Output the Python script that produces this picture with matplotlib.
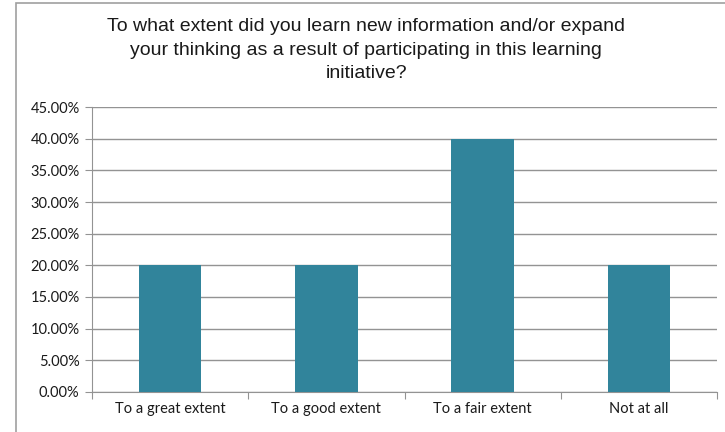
import matplotlib.pyplot as plt
from matplotlib.patches import Rectangle
from matplotlib.ticker import PercentFormatter, MultipleLocator

categories = ["To a great extent", "To a good extent", "To a fair extent", "Not at all"]
shares = [20.0, 20.0, 40.0, 20.0]
title = ("To what extent did you learn new information and/or expand\n"
         "your thinking as a result of participating in this learning\n"
         "initiative?")

fig = plt.figure(figsize=(7.25, 4.32), dpi=100)
ax = fig.add_axes([0.127, 0.093, 0.862, 0.659])

# chart frame (left and top edges only, the rest is cropped)
fig.patches.append(Rectangle((16 / 725, -0.1), 1.2, 1.1 - 3 / 432,
                             transform=fig.transFigure, fill=False,
                             edgecolor="#a0a0a0", linewidth=1.2))

x = range(len(categories))
ax.bar(x, shares, width=0.4, color="#31849B", zorder=3)

ax.set_xlim(-0.5, len(categories) - 0.5)
ax.set_ylim(0, 45)
ax.yaxis.set_major_locator(MultipleLocator(5))
ax.yaxis.set_major_formatter(PercentFormatter(decimals=2))
ax.grid(axis="y", color="#939393", linewidth=1.0, zorder=0)

ax.set_xticks([i - 0.5 for i in range(len(categories) + 1)])
ax.set_xticklabels([])
ax.set_xticks(list(x), minor=True)
ax.set_xticklabels(categories, minor=True)
ax.tick_params(axis="x", which="minor", length=0, pad=7)
ax.tick_params(axis="x", which="major", length=5, color="#939393")
ax.tick_params(axis="y", length=5, color="#939393", pad=4)

for lbl in ax.get_xticklabels(minor=True) + ax.get_yticklabels():
    lbl.set_family("Lato")
    lbl.set_fontsize(10.5)
    lbl.set_color("#1a1a1a")

for s in ["top", "right"]:
    ax.spines[s].set_visible(False)
for s in ["left", "bottom"]:
    ax.spines[s].set_color("#939393")

fig.text(0.505, 0.958, title, ha="center", va="top", fontsize=14,
         family="Liberation Sans", color="#1a1a1a", linespacing=1.5)

fig.savefig("out.png", dpi=100)
